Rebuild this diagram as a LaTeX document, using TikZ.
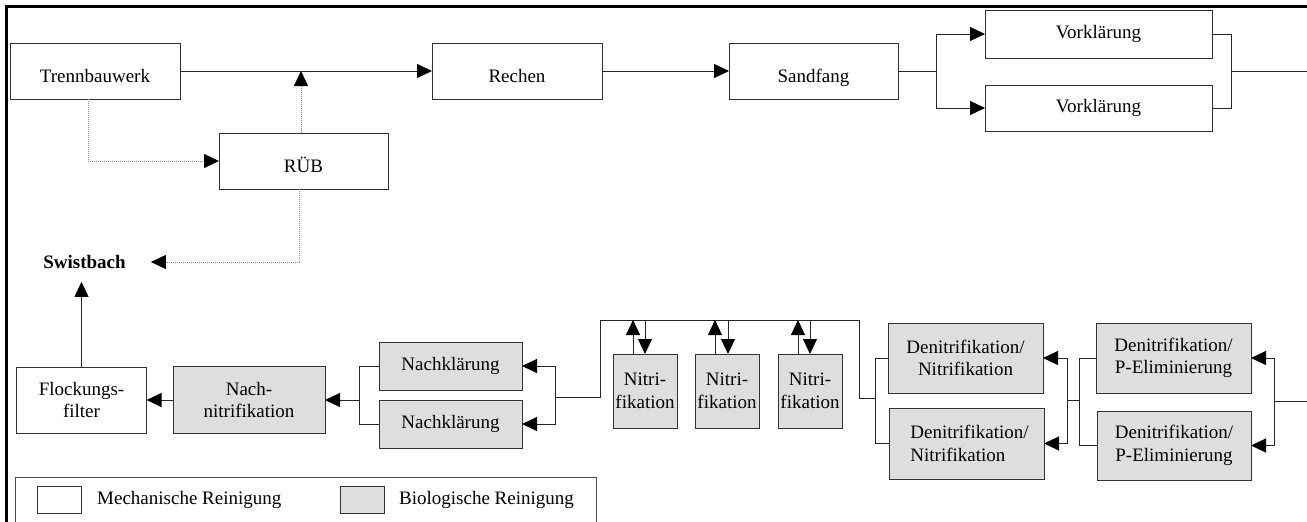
\documentclass[tikz,border=0pt]{standalone}
\usepackage{fontspec}
\setmainfont{Liberation Serif}
\usetikzlibrary{arrows.meta}
\begin{document}
\begin{tikzpicture}[x=1pt,y=-1pt,
  txt/.style={font=\fontsize{19}{22.5}\selectfont},
  box/.style={txt, draw=black!80, line width=1pt, inner sep=0pt, outer sep=0pt, align=center},
  mech/.style={box, fill=white},
  bio/.style={box, fill=black!13},
  low/.style={text height=26pt, text depth=4pt},
  wh/.style 2 args={minimum width=#1, minimum height=#2},
  con/.style={line width=1pt, draw=black!85},
  arr/.style={con, -{Triangle[length=15pt,width=14pt,color=black]}},
  dotl/.style={line width=1pt, draw=black!45, densely dotted},
  darr/.style={dotl, -{Triangle[length=15pt,width=14pt,color=black]}}
]
\useasboundingbox (0,0) rectangle (1307,522);
% frame
\draw[line width=3pt, black] (6,530) -- (6,6) -- (1310,6);

% top row
\node[mech, low, wh={170pt}{56pt}] (tb) at (95,71) {Trennbauwerk};
\node[mech, low, wh={170pt}{56pt}] (rechen) at (517,71) {Rechen};
\node[mech, low, wh={169pt}{56pt}] (sand) at (813.5,71) {Sandfang};
\node[mech, wh={227pt}{48pt}] (vk1) at (1098.5,34) {Vorklärung};
\node[mech, wh={227pt}{46pt}] (vk2) at (1098.5,108) {Vorklärung};
\node[mech, low, wh={169pt}{56pt}] (rub) at (303.5,161) {RÜB};
\node[txt, font=\bfseries\fontsize{19}{22.5}\selectfont, inner sep=0pt] (swist) at (84.5,262) {Swistbach};

\coordinate (sp1) at (936,71);
\coordinate (mg1) at (1231,71);
\coordinate (out1) at (1310,71);
\draw[arr] (tb.east) -- (rechen.west);
\draw[arr] (rechen.east) -- (sand.west);
\draw[con] (sand.east) -- (sp1);
\draw[arr] (sp1) |- (vk1.west);
\draw[arr] (sp1) |- (vk2.west);
\draw[con] (vk1.east) -| (mg1);
\draw[con] (vk2.east) -| (mg1);
\draw[con] (mg1) -- (out1);

% overflow (dotted)
\draw[darr] ([xshift=-7pt]tb.south) |- (rub.west);
\draw[darr] ([xshift=-2.5pt]rub.north) -- ([xshift=-2.5pt]rub.north |- tb.east);
\draw[darr] ([xshift=-4.5pt]rub.south) |- ([xshift=25pt]swist.east);

% bottom row
\node[mech, wh={130pt}{66pt}] (ff) at (81.5,400) {Flockungs-\\filter};
\node[bio, wh={152pt}{67pt}] (nn) at (249,400) {Nach-\\nitrifikation};
\node[bio, wh={143pt}{48pt}] (nk1) at (450.5,366) {Nachklärung};
\node[bio, wh={143pt}{48pt}] (nk2) at (450.5,424) {Nachklärung};
\node[bio, wh={64pt}{74pt}] (ni1) at (645,391) {Nitri-\\fikation};
\node[bio, wh={64pt}{74pt}] (ni2) at (727,391) {Nitri-\\fikation};
\node[bio, wh={64pt}{74pt}] (ni3) at (810,391) {Nitri-\\fikation};
\node[bio, wh={155pt}{70pt}] (dn1) at (965.5,358) {Denitrifikation/\\Nitrifikation};
\node[bio, wh={155pt}{71pt}, align=left] (dn2) at (966.5,443.5) {\hspace*{6pt}Denitrifikation/\\\hspace*{6pt}Nitrifikation};
\node[bio, wh={155pt}{70pt}] (dp1) at (1173.5,358) {Denitrifikation/\\P-Eliminierung};
\node[bio, wh={154pt}{69pt}] (dp2) at (1174,445.5) {Denitrifikation/\\P-Eliminierung};

\draw[arr, shorten >=13pt] (ff.north) -- (ff.north |- swist.south);
\draw[arr] (nn.west) -- (ff.east);
\coordinate (mg2) at (359,400);
\draw[con] (nk1.west) -| (mg2);
\draw[con] (nk2.west) -| (mg2);
\draw[arr] (mg2) -- (nn.east);
\coordinate (sp2) at (555,397);
\draw[arr] (sp2) |- (nk1.east);
\draw[arr] (sp2) |- (nk2.east);
\coordinate (topL) at (600,320);
\coordinate (topR) at (859,320);
\coordinate (mg3) at (875,398);
\draw[con] (sp2) -- (sp2 -| topL) -- (topL) -- (topR) -- (topR |- mg3) -- (mg3);
\draw[con] (mg3) |- (dn1.west);
\draw[con] (mg3) |- (dn2.west);

\draw[arr] ([xshift=-12pt]ni1.north) -- ([xshift=-12pt]ni1.north |- topL);
\draw[arr] (ni1.north |- topL) -- (ni1.north);
\draw[arr] ([xshift=-12pt]ni2.north) -- ([xshift=-12pt]ni2.north |- topL);
\draw[arr] ([xshift=1pt]ni2.north |- topL) -- ([xshift=1pt]ni2.north);
\draw[arr] ([xshift=-12pt]ni3.north) -- ([xshift=-12pt]ni3.north |- topL);
\draw[arr] (ni3.north |- topL) -- (ni3.north);

\coordinate (sp3) at (1067,400);
\coordinate (mg4) at (1079,400);
\draw[arr] (sp3) |- (dn1.east);
\draw[arr] (sp3) |- (dn2.east);
\draw[con] (sp3) -- (mg4);
\draw[con] (mg4) |- (dp1.west);
\draw[con] (mg4) |- (dp2.west);
\coordinate (sp4) at (1274,401);
\coordinate (out2) at (1310,401);
\draw[arr] (sp4) |- (dp1.east);
\draw[arr] (sp4) |- (dp2.east);
\draw[con] (sp4) -- (out2);

% legend
\draw[line width=1pt, draw=black!70] (15,540) -- (15,477) -- (596,477) -- (596,540);
\node[mech, wh={44pt}{27pt}] (lm) at (59,499.5) {};
\node[txt, anchor=west, inner sep=0pt] (lmt) at (97,500) {Mechanische Reinigung};
\node[bio, wh={44pt}{27pt}] (lb) at (362.5,499.5) {};
\node[txt, anchor=west, inner sep=0pt] (lbt) at (399,500) {Biologische Reinigung};
\end{tikzpicture}
\end{document}
